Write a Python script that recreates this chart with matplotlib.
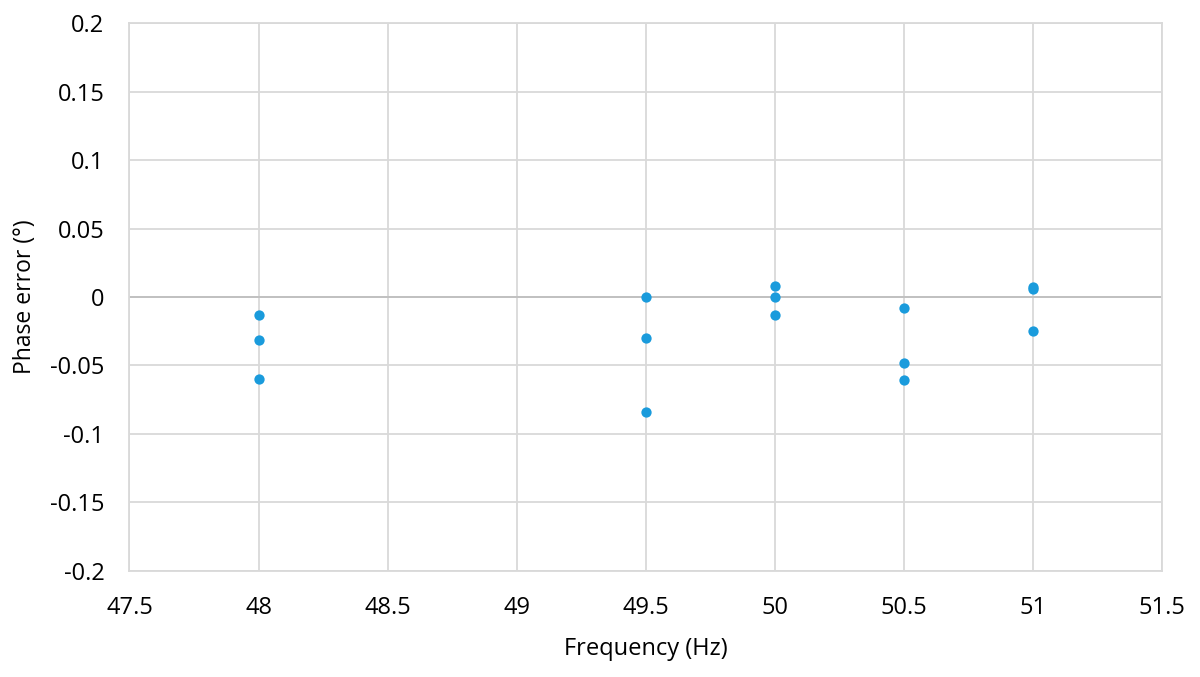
import matplotlib
matplotlib.use("Agg")
import matplotlib.pyplot as plt

# Data
freq = [48, 48, 48,
        49.5, 49.5, 49.5,
        50, 50, 50,
        50.5, 50.5, 50.5,
        51, 51, 51]
phase_error = [-0.013, -0.0315, -0.0595,
               0.0, -0.0296, -0.0836,
               0.008, 0.0, -0.0131,
               -0.0077, -0.0483, -0.0609,
               0.0075, 0.0062, -0.0247]

x_ticks = [47.5, 48, 48.5, 49, 49.5, 50, 50.5, 51, 51.5]
x_tick_labels = ["47.5", "48", "48.5", "49", "49.5", "50", "50.5", "51", "51.5"]
y_ticks = [-0.2, -0.15, -0.1, -0.05, 0, 0.05, 0.1, 0.15, 0.2]
y_tick_labels = ["-0.2", "-0.15", "-0.1", "-0.05", "0", "0.05", "0.1", "0.15", "0.2"]

plt.rcParams['font.family'] = ['Open Sans', 'DejaVu Sans']

fig = plt.figure(figsize=(12, 6.77), dpi=100)
ax = fig.add_axes([0.1079, 0.1566, 0.8604, 0.8094])

grid_color = '#d9d9d9'
ax.set_xlim(47.5, 51.5)
ax.set_ylim(-0.2, 0.2)
ax.set_xticks(x_ticks)
ax.set_xticklabels(x_tick_labels)
ax.set_yticks(y_ticks)
ax.set_yticklabels(y_tick_labels)
ax.grid(True, color=grid_color, linewidth=1.3)
ax.set_axisbelow(True)
for s in ax.spines.values():
    s.set_color(grid_color)
    s.set_linewidth(1.3)
ax.axhline(0, color='#bfbfbf', linewidth=1.3, zorder=1)

ax.tick_params(axis='both', length=0, labelsize=17, colors='#000000')
ax.tick_params(axis='y', pad=18)
ax.tick_params(axis='x', pad=18)

ax.scatter(freq, phase_error, s=55, color='#1a9bdc', zorder=3, linewidths=0)

ax.set_xlabel("Frequency (Hz)", fontsize=17, labelpad=12)
ax.set_ylabel("Phase error (°)", fontsize=16.5, labelpad=9)

fig.savefig("out.png", dpi=100)
